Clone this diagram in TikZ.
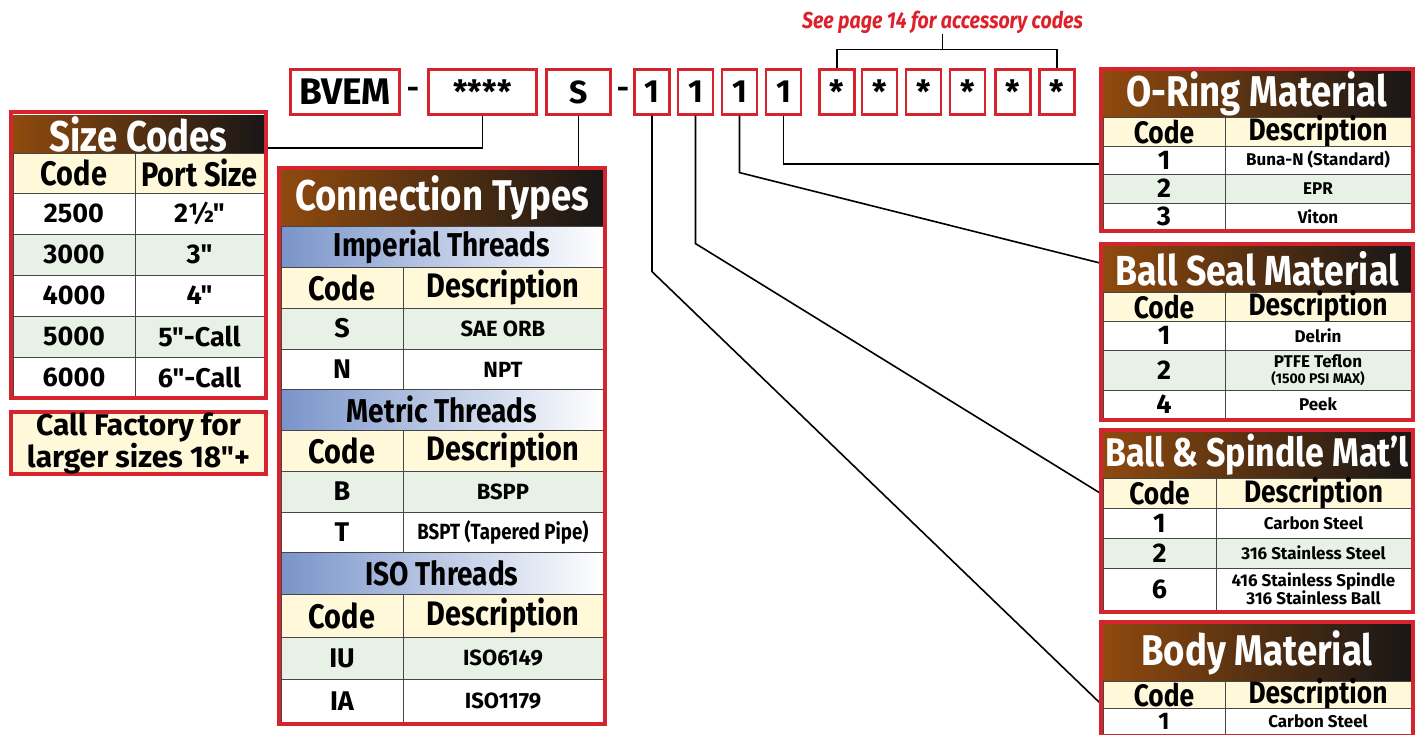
\documentclass[tikz,border=0pt]{standalone}
\usepackage{fontspec}
\setmainfont[Ligatures=TeXOff]{Fira Sans}
\newfontfamily\condfont[FakeStretch=0.85, Ligatures=TeXOff]{Fira Sans}

\definecolor{framered}{RGB}{214,36,46}
\definecolor{hdbrown}{RGB}{143,74,14}
\definecolor{hdblack}{RGB}{24,22,22}
\definecolor{codeyellow}{RGB}{255,249,218}
\definecolor{rowgreen}{RGB}{232,241,229}
\definecolor{subblue}{RGB}{122,148,202}
\definecolor{gridgray}{RGB}{70,70,70}
\definecolor{notered}{RGB}{222,32,42}

\tikzset{
  link/.style={line width=1.6pt},
  codebox/.style={draw=framered, line width=2.2pt, fill=white, minimum height=45pt,
    inner sep=0pt, font=\bfseries\fontsize{32}{32}\selectfont},
  redframe/.style={draw=framered, line width=4pt},
  hdfill/.style={left color=hdbrown, right color=hdblack},
  subhd/.style={left color=subblue, right color=white},
  cellbox/.style={draw=gridgray, line width=0.7pt},
  hdtext/.style={text=white, inner sep=0pt, font=\condfont\bfseries\fontsize{43}{43}\selectfont},
  subtext/.style={inner sep=0pt, font=\condfont\bfseries\fontsize{33}{33}\selectfont},
  colhead/.style={inner sep=0pt, font=\condfont\bfseries\fontsize{34}{34}\selectfont},
  smallhead/.style={inner sep=0pt, font=\condfont\bfseries\fontsize{31}{31}\selectfont},
  celltext/.style={inner sep=0pt, align=center, font=\bfseries\fontsize{27}{27}\selectfont},
  desctext/.style={inner sep=0pt, align=center, font=\bfseries\fontsize{22}{22}\selectfont},
  bigcode/.style={inner sep=0pt, font=\bfseries\fontsize{27}{27}\selectfont},
  smalltext/.style={inner sep=0pt, align=center, font=\bfseries\fontsize{17}{18}\selectfont},
  seenote/.style={inner sep=0.5pt, text=notered, font=\condfont\bfseries\itshape\fontsize{23}{23}\selectfont},
}

\begin{document}
\begin{tikzpicture}[x=1pt,y=-1pt]
  \useasboundingbox (0,0) rectangle (1419,734);
  \fill[white] (0,0) rectangle (1419,734);

  % model code boxes
  \node[codebox, minimum width=109, font=\bfseries\fontsize{37}{37}\selectfont] (bvem) at (345,92) {BVEM};
  \node[font=\bfseries\fontsize{30}{30}\selectfont] (dash1) at (413,93) {-};
  \node[codebox, minimum width=108] (size) at (482.5,92) {****};
  \node[codebox, minimum width=64] (conn) at (578.5,92) {S};
  \node[font=\bfseries\fontsize{30}{30}\selectfont] (dash2) at (623,93) {-};
  \foreach \x [count=\i] in {652,695.5,739.5,783.5}
    \node[codebox, minimum width=35] (mat\i) at (\x,92) {1};
  \foreach \x [count=\i] in {837,879.5,923.5,967.5,1013,1057}
    \node[codebox, minimum width=35] (acc\i) at (\x,92) {*};

  % accessory note
  \node[seenote] (note) at (942.5,22) {See page 14 for accessory codes};
  \draw[link] (acc1.north) -- ++(0,-19) coordinate (brk) -| (acc6.north);
  \draw[link] (note.south) -- (note.south |- brk);

  % connectors
  \coordinate (szIn) at (268,148);
  \coordinate (ctIn) at (578.5,166);
  \coordinate (orIn) at (1100,164);
  \coordinate (bsIn) at (1100,263);
  \coordinate (spIn) at (1100,493);
  \coordinate (bdIn) at (1100,703);
  \draw[link] (size.south) |- (szIn);
  \draw[link] (conn.south) -- (ctIn);
  \draw[link] (mat1.south) -- ++(0,156) -- (bdIn);
  \draw[link] (mat2.south) -- ++(0,128) -- (spIn);
  \draw[link] (mat3.south) -- ++(0,57) -- (bsIn);
  \draw[link] (mat4.south) |- (orIn);

  % size codes
  \shade[hdfill] (13,115) rectangle (264,153) node[pos=.5, hdtext] (szhead) {Size Codes};
  \draw[cellbox, fill=codeyellow] (13,153) rectangle (135,193) node[pos=.5, colhead] (szcode) {Code};
  \draw[cellbox, fill=codeyellow] (135,153) rectangle (264,193) node[pos=.5, colhead] (szport) {Port Size};
  \foreach \c/\p/\t/\fc [count=\i] in {2500/2½"/193/white, 3000/3"/234/rowgreen,
      4000/4"/275/white, 5000/5"-Call/316/rowgreen, 6000/6"-Call/357/white}{
    \draw[cellbox, fill=\fc] (13,\t) rectangle ++(122,41) node[pos=.5, celltext] (szc\i) {\c};
    \draw[cellbox, fill=\fc] (135,\t) rectangle ++(129,41) node[pos=.5, celltext] (szp\i) {\p};
  }
  \draw[redframe] (11,112) rectangle (266,398);

  \draw[redframe, fill=codeyellow] (11,412) rectangle (266,474)
    node[pos=.5, align=center, font=\bfseries\fontsize{30}{27}\selectfont] (callfac) {Call Factory for\\larger sizes 18"+};

  % connection types
  \shade[hdfill] (281,170) rectangle (603,226) node[pos=.5, hdtext] (cthead) {Connection Types};
  \foreach \sect/\t/\h/\ca/\da/\cb/\db [count=\i] in {Imperial Threads/226/41/S/SAE ORB/N/NPT,
      Metric Threads/389/41/B/BSPP/T/{\condfont BSPT (Tapered Pipe)},
      ISO Threads/552/42.5/IU/ISO6149/IA/ISO1179}{
    \shadedraw[subhd, cellbox] (281,\t) rectangle ++(322,\h) node[pos=.5, subtext] (ctsub\i) {\sect};
    \draw[cellbox, fill=codeyellow] (281,\t+\h) rectangle ++(122,\h) node[pos=.5, colhead] (ctcode\i) {Code};
    \draw[cellbox, fill=codeyellow] (403,\t+\h) rectangle ++(200,\h) node[pos=.5, colhead] (ctdesc\i) {Description};
    \draw[cellbox, fill=rowgreen] (281,\t+2*\h) rectangle ++(122,\h) node[pos=.5, celltext] (cta\i) {\ca};
    \draw[cellbox, fill=rowgreen] (403,\t+2*\h) rectangle ++(200,\h) node[pos=.5, desctext] (ctda\i) {\da};
    \draw[cellbox, fill=white] (281,\t+3*\h) rectangle ++(122,\h) node[pos=.5, celltext] (ctb\i) {\cb};
    \draw[cellbox, fill=white] (403,\t+3*\h) rectangle ++(200,\h) node[pos=.5, desctext] (ctdb\i) {\db};
  }
  \draw[redframe] (279,168) rectangle (605,724);

  % o-ring material
  \shade[hdfill] (1103,71) rectangle (1411,117) node[pos=.5, hdtext] (orhead) {O-Ring Material};
  \draw[cellbox, fill=codeyellow] (1103,117) rectangle (1225,146) node[pos=.5, smallhead] (orcode) {Code};
  \draw[cellbox, fill=codeyellow] (1225,117) rectangle (1411,146) node[pos=.5, smallhead] (ordesc) {Description};
  \foreach \c/\d/\t/\h/\fc [count=\i] in {1/Buna-N (Standard)/146/28/white,
      2/EPR/174/29/rowgreen, 3/Viton/203/27/white}{
    \draw[cellbox, fill=\fc] (1103,\t) rectangle ++(122,\h) node[pos=.5, bigcode] (orc\i) {\c};
    \draw[cellbox, fill=\fc] (1225,\t) rectangle ++(186,\h) node[pos=.5, smalltext] (ord\i) {\d};
  }
  \draw[redframe] (1101,69) rectangle (1413,231);

  % ball seal material
  \shade[hdfill] (1103,246) rectangle (1411,292) node[pos=.5, hdtext, font=\condfont\bfseries\fontsize{42}{42}\selectfont] (bshead) {Ball Seal Material};
  \draw[cellbox, fill=codeyellow] (1103,292) rectangle (1225,321) node[pos=.5, smallhead] (bscode) {Code};
  \draw[cellbox, fill=codeyellow] (1225,292) rectangle (1411,321) node[pos=.5, smallhead] (bsdesc) {Description};
  \foreach \c/\d/\t/\h/\fc [count=\i] in {1/Delrin/321/29/white,
      2/PTFE Teflon\\[-2pt]{\fontsize{14}{14}\selectfont(1500 PSI MAX)}/350/40/rowgreen,
      4/Peek/390/28/white}{
    \draw[cellbox, fill=\fc] (1103,\t) rectangle ++(122,\h) node[pos=.5, bigcode] (bsc\i) {\c};
    \draw[cellbox, fill=\fc] (1225,\t) rectangle ++(186,\h) node[pos=.5, smalltext] (bsd\i) {\d};
  }
  \draw[redframe] (1101,244) rectangle (1413,420);

  % ball and spindle material
  \shade[hdfill] (1103,432) rectangle (1411,478) node[pos=.5, hdtext, font=\condfont\bfseries\fontsize{40}{40}\selectfont] (sphead) {Ball \& Spindle Mat’l};
  \draw[cellbox, fill=codeyellow] (1103,478) rectangle (1216,508) node[pos=.5, smallhead] (spcode) {Code};
  \draw[cellbox, fill=codeyellow] (1216,478) rectangle (1411,508) node[pos=.5, smallhead] (spdesc) {Description};
  \foreach \c/\d/\t/\h/\fc [count=\i] in {1/Carbon Steel/508/30/white,
      2/316 Stainless Steel/538/30/rowgreen,
      6/416 Stainless Spindle\\316 Stainless Ball/568/42/white}{
    \draw[cellbox, fill=\fc] (1103,\t) rectangle ++(113,\h) node[pos=.5, bigcode] (spc\i) {\c};
    \draw[cellbox, fill=\fc] (1216,\t) rectangle ++(195,\h) node[pos=.5, smalltext] (spd\i) {\d};
  }
  \draw[redframe] (1101,430) rectangle (1413,612);

  % body material
  \shade[hdfill] (1103,624) rectangle (1411,681) node[pos=.5, hdtext] (bdhead) {Body Material};
  \draw[cellbox, fill=codeyellow] (1103,681) rectangle (1225,708) node[pos=.5, smallhead] (bdcode) {Code};
  \draw[cellbox, fill=codeyellow] (1225,681) rectangle (1411,708) node[pos=.5, smallhead] (bddesc) {Description};
  \draw[cellbox, fill=white] (1103,708) rectangle (1225,734) node[pos=.5, bigcode, font=\bfseries\fontsize{24}{24}\selectfont] (bdc1) {1};
  \draw[cellbox, fill=white] (1225,708) rectangle (1411,734) node[pos=.5, smalltext] (bdd1) {Carbon Steel};
  \draw[redframe] (1101,622) rectangle (1413,736);
\end{tikzpicture}
\end{document}
